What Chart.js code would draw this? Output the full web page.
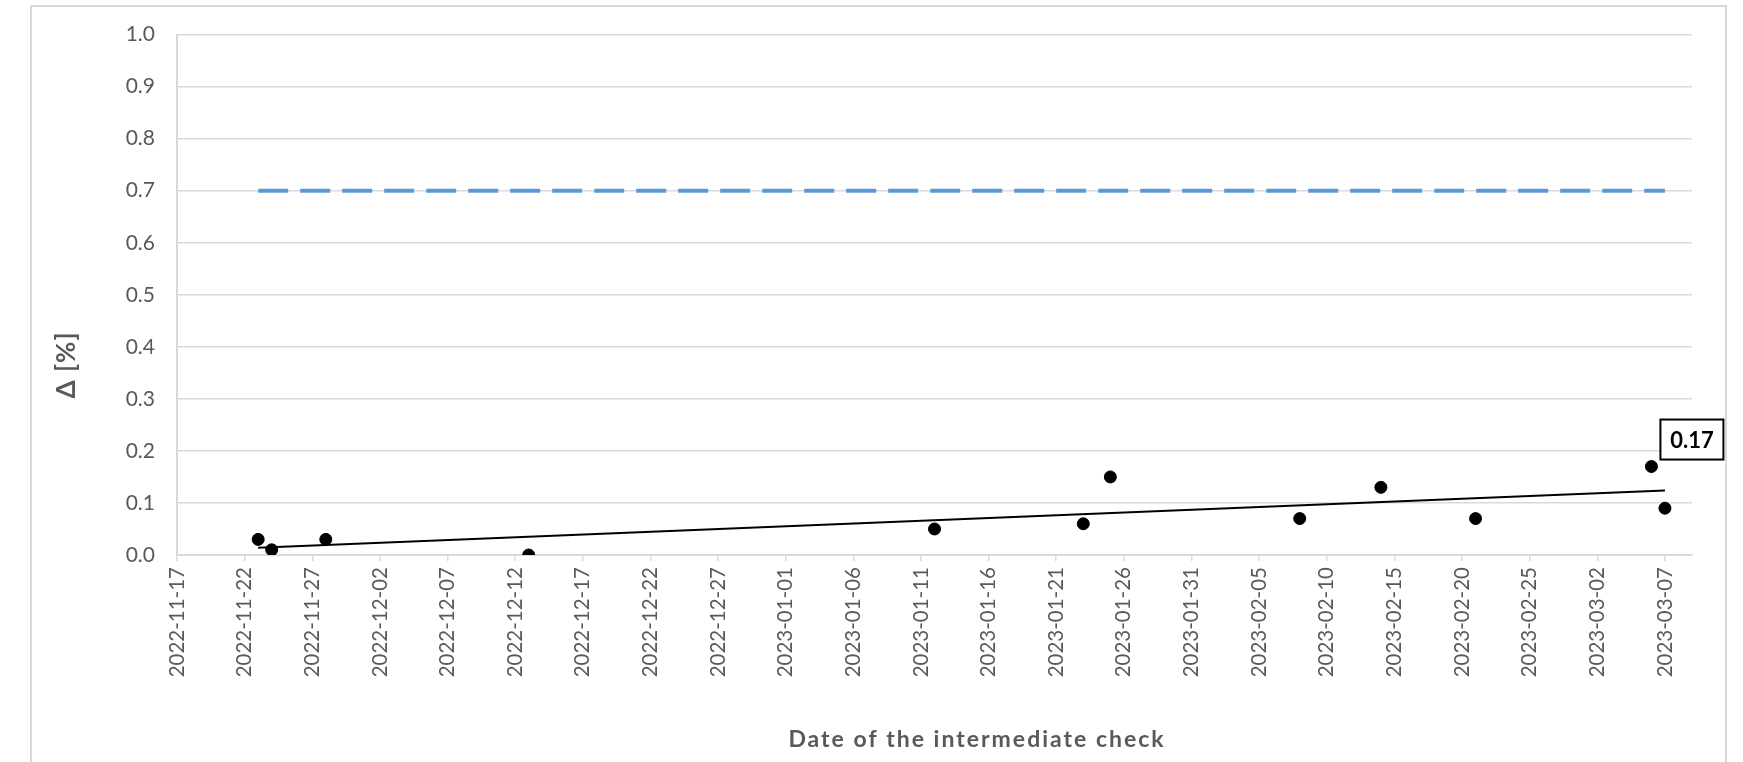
<!DOCTYPE html>
<html>
<head>
<script src="https://cdn.jsdelivr.net/npm/chart.js@4.4.0/dist/chart.umd.min.js"></script>
<style>body{margin:0;background:#fff}</style>
</head>
<body>
<canvas id="chart" width="1743" height="762"></canvas>
<script>
// measured deltas at each intermediate check
var checkDates = ['2022-11-23','2022-11-24','2022-11-28','2022-12-13','2023-01-12','2023-01-23','2023-01-25','2023-02-08','2023-02-14','2023-02-21','2023-03-06','2023-03-07'];
var deltas = [0.03, 0.01, 0.03, 0.00, 0.05, 0.06, 0.15, 0.07, 0.13, 0.07, 0.17, 0.09];

// limit line (dashed)
var limitDates = ['2022-11-23','2023-03-07'];
var limitValues = [0.7, 0.7];

// linear trend
var trendDates = ['2022-11-23','2023-03-07'];
var trendValues = [0.014, 0.124];

var tickLabels = ['2022-11-17','2022-11-22','2022-11-27','2022-12-02','2022-12-07','2022-12-12','2022-12-17','2022-12-22','2022-12-27','2023-01-01','2023-01-06','2023-01-11','2023-01-16','2023-01-21','2023-01-26','2023-01-31','2023-02-05','2023-02-10','2023-02-15','2023-02-20','2023-02-25','2023-03-02','2023-03-07'];
var axisStart = '2022-11-17', axisEnd = '2023-03-09';
var labelIndex = 10; // point with the "0.17" label

function dayOf(s) {
  var p = s.split('-');
  var a = axisStart.split('-');
  return (Date.UTC(+p[0], p[1]-1, +p[2]) - Date.UTC(+a[0], a[1]-1, +a[2])) / 86400000;
}
function pts(xs, ys) {
  return xs.map(function (d, i) { return {x: dayOf(d), y: ys[i]}; });
}

var FONT = 'Lato';
var GREY = '#595959';
var GRID = '#d9d9d9';

var decor = {
  id: 'decor',
  beforeDraw: function (chart) {
    var ctx = chart.ctx;
    ctx.save();
    ctx.strokeStyle = GRID;
    ctx.lineWidth = 2;
    ctx.strokeRect(31, 6, 1695, 820);
    ctx.restore();
  },
  afterDatasetsDraw: function (chart) {
    var ctx = chart.ctx;
    var pt = chart.getDatasetMeta(2).data[labelIndex];
    ctx.save();
    var bx = pt.x + 9, by = pt.y - 47, bw = 63, bh = 40;
    ctx.fillStyle = '#fff';
    ctx.fillRect(bx, by, bw, bh);
    ctx.strokeStyle = '#000';
    ctx.lineWidth = 2;
    ctx.strokeRect(bx, by, bw, bh);
    ctx.fillStyle = '#000';
    ctx.font = 'bold 22px ' + FONT;
    ctx.textAlign = 'center';
    ctx.textBaseline = 'middle';
    ctx.fillText(deltas[labelIndex].toFixed(2), bx + bw / 2, by + bh / 2 + 1);
    ctx.restore();
  },
  afterDraw: function (chart) {
    var ctx = chart.ctx;
    ctx.save();
    ctx.fillStyle = GREY;
    ctx.textAlign = 'center';
    ctx.textBaseline = 'middle';
    ctx.font = 'bold 23px ' + FONT;
    ctx.letterSpacing = '2px';
    ctx.fillText('Date of the intermediate check', 977, 740);
    ctx.letterSpacing = '1px';
    ctx.font = 'bold 26px ' + FONT;
    ctx.translate(67, 365);
    ctx.rotate(-Math.PI / 2);
    ctx.fillText('\u0394 [%]', 0, 0);
    ctx.restore();
  }
};

new Chart(document.getElementById('chart'), {
  type: 'scatter',
  data: {
    datasets: [
      { type: 'line', data: pts(limitDates, limitValues), borderColor: '#5B9BD5', borderWidth: 4,
        borderDash: [30, 12], pointRadius: 0, fill: false, order: 3 },
      { type: 'line', data: pts(trendDates, trendValues), borderColor: '#000', borderWidth: 2,
        pointRadius: 0, fill: false, order: 2 },
      { data: pts(checkDates, deltas), backgroundColor: '#000', borderColor: '#000',
        pointRadius: 6, pointHoverRadius: 6, order: 1 }
    ]
  },
  plugins: [decor],
  options: {
    responsive: false,
    animation: false,
    layout: { padding: { left: 0, right: 51, top: 34, bottom: 0 } },
    plugins: { legend: { display: false }, tooltip: { enabled: false } },
    scales: {
      x: {
        type: 'linear',
        min: 0,
        max: dayOf(axisEnd),
        afterBuildTicks: function (s) {
          s.ticks = tickLabels.map(function (d) { return {value: dayOf(d)}; });
        },
        afterFit: function (s) { s.height = 207; },
        ticks: {
          minRotation: 90, maxRotation: 90, autoSkip: false, padding: 6,
          color: GREY, font: { family: FONT, size: 20.5 },
          callback: function (v, i) { return tickLabels[i]; }
        },
        grid: { drawOnChartArea: false, color: GRID, lineWidth: 1.5, tickLength: 6 },
        border: { color: GRID, width: 2 }
      },
      y: {
        min: 0, max: 1,
        afterFit: function (s) { s.width = 177; },
        ticks: {
          stepSize: 0.1, padding: 22, color: GREY, font: { family: FONT, size: 21 },
          callback: function (v) { return v.toFixed(1); }
        },
        grid: { color: GRID, lineWidth: 1.5, drawTicks: false },
        border: { color: GRID, width: 2 }
      }
    }
  }
});
</script>
</body>
</html>
